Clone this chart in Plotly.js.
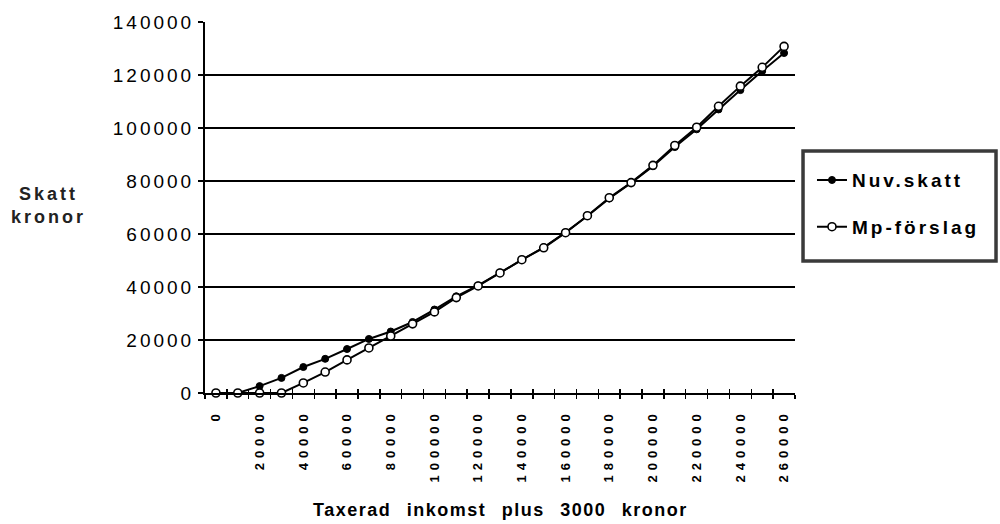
<!DOCTYPE html>
<html><head><meta charset="utf-8">
<script src="https://cdn.plot.ly/plotly-3.0.1.min.js"></script>
<style>
html,body{margin:0;padding:0;background:#fff;}
#chart{width:1000px;height:524px;}
.xtick text{letter-spacing:5px;}
.ytick text{letter-spacing:3px;}
.legendtext{letter-spacing:3px;}
.annotation[data-index="0"] text{letter-spacing:3px;}
.annotation[data-index="1"] text{letter-spacing:1.5px;word-spacing:9px;}
</style></head><body><div id="chart"></div>
<script>
const incomes = [0,10000,20000,30000,40000,50000,60000,70000,80000,90000,100000,110000,120000,130000,140000,150000,160000,170000,180000,190000,200000,210000,220000,230000,240000,250000,260000];
const nuvSkatt = [0,0,2600,5700,9800,12900,16600,20400,23200,26800,31500,36500,40600,45500,50300,55000,60600,66800,73400,79300,85600,92800,99500,107000,114300,121500,128300];
const mpForslag = [0,0,0,0,3800,7900,12500,17000,21500,26100,30600,36000,40400,45300,50300,54800,60500,66900,73700,79400,85900,93400,100300,108200,115800,122900,130800];
const seriesNames = ['Nuv.skatt','Mp-förslag'];
const xTickValues = [0,20000,40000,60000,80000,100000,120000,140000,160000,180000,200000,220000,240000,260000];
const xTickLabels = ['0','20000','40000','60000','80000','100000','120000','140000','160000','180000','200000','220000','240000','260000'];
const yTickValues = [0,20000,40000,60000,80000,100000,120000,140000];
const yTickLabels = ['0','20000','40000','60000','80000','100000','120000','140000'];
const yTitle = 'Skatt<br>kronor';
const xTitle = 'Taxerad inkomst plus 3000 kronor';

const FONT = 'Liberation Sans, Arial, Helvetica, sans-serif';

const traces = [
  {x: incomes, y: nuvSkatt, name: seriesNames[0], type: 'scatter', mode: 'lines+markers',
   legendgroup: 'a', cliponaxis: false,
   line: {color: '#000', width: 2},
   marker: {symbol: 'circle', size: 7, color: '#000', line: {color: '#000', width: 1}}},
  {x: incomes, y: mpForslag, name: seriesNames[1], type: 'scatter', mode: 'lines+markers',
   legendgroup: 'b', cliponaxis: false,
   line: {color: '#000', width: 2},
   marker: {symbol: 'circle', size: 8, color: '#fff', line: {color: '#000', width: 1.6}}},
  {x: [], y: [], xaxis: 'x2', yaxis: 'y', showlegend: false, hoverinfo: 'skip', type: 'scatter', mode: 'markers'}
];

const layout = {
  width: 1000, height: 524,
  margin: {l: 205, r: 205, t: 22, b: 131, pad: 0},
  paper_bgcolor: '#fff', plot_bgcolor: '#fff',
  font: {family: FONT, color: '#000'},
  showlegend: true,
  xaxis: {
    type: 'linear', range: [-5000, 265000], automargin: false,
    tickmode: 'array', tickvals: xTickValues, ticktext: xTickLabels,
    tickangle: -90, ticks: '', ticklabelstandoff: 9,
    tickfont: {family: FONT, size: 13, weight: 'bold', color: '#000'},
    showgrid: false, zeroline: false, showline: true, linecolor: '#000', linewidth: 2,
    minor: {ticks: 'outside', tickmode: 'linear', tick0: 5000, dtick: 10000, ticklen: 4, tickwidth: 1.5, tickcolor: '#000', showgrid: false}
  },
  xaxis2: {
    overlaying: 'x', anchor: 'y', side: 'bottom', type: 'linear', range: [-5000, 265000],
    tickmode: 'linear', tick0: 5000, dtick: 10000, ticks: 'inside', ticklen: 4, tickwidth: 1.5, tickcolor: '#000',
    showticklabels: false, showgrid: false, zeroline: false, showline: false, automargin: false
  },
  yaxis: {
    range: [0, 140000], automargin: false,
    tickmode: 'array', tickvals: yTickValues, ticktext: yTickLabels,
    ticks: 'outside', ticklen: 5, tickwidth: 1.5, tickcolor: '#000',
    tickfont: {family: FONT, size: 19, color: '#000'},
    showgrid: true, gridcolor: '#000', gridwidth: 2,
    zeroline: false, showline: true, linecolor: '#000', linewidth: 2
  },
  legend: {
    x: 1.0288, y: 0.625, xanchor: 'left', yanchor: 'top',
    bgcolor: 'rgba(0,0,0,0)', borderwidth: 0,
    font: {family: FONT, size: 19, weight: 'bold', color: '#000'},
    tracegroupgap: 19, itemwidth: 30
  },
  shapes: [
    {type: 'rect', xref: 'paper', yref: 'paper', x0: 1.0136, x1: 1.3407, y0: 0.3558, y1: 0.6523,
     line: {color: '#3a3a3a', width: 3.5}, fillcolor: 'rgba(0,0,0,0)', layer: 'above'}
  ],
  annotations: [
    {text: yTitle, xref: 'paper', yref: 'paper', x: -0.266, y: 0.505, xanchor: 'center', yanchor: 'middle',
     showarrow: false, align: 'center', font: {family: FONT, size: 18, weight: 'bold', color: '#222'}},
    {text: xTitle, xref: 'paper', yref: 'paper', x: 0.5, y: -0.315, xanchor: 'center', yanchor: 'middle',
     showarrow: false, font: {family: FONT, size: 18, weight: 'bold', color: '#000'}}
  ]
};

Plotly.newPlot('chart', traces, layout, {displayModeBar: false, staticPlot: true});
</script>
</body></html>
